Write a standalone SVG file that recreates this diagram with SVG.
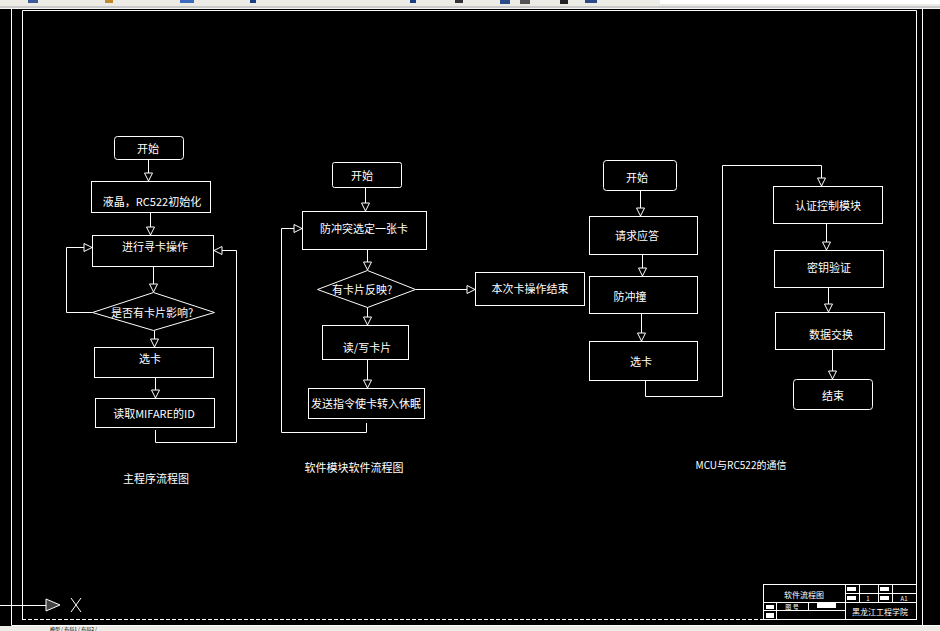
<svg xmlns="http://www.w3.org/2000/svg" width="940" height="631" viewBox="0 0 940 631">
<style>
.bx{fill:none;stroke:#fff;stroke-width:1}
.ln{fill:none;stroke:#fff;stroke-width:1}
.t{fill:#fff;font-family:"Noto Sans CJK SC","Liberation Sans",sans-serif;font-size:11px;text-anchor:middle;dominant-baseline:central}
.ts{fill:#fff;font-family:"Noto Sans CJK SC","Liberation Sans",sans-serif;font-size:8px;text-anchor:middle;dominant-baseline:central}
.tt{font-size:6px}
</style>
<defs>
<marker id="ar" markerUnits="userSpaceOnUse" markerWidth="10" markerHeight="10" viewBox="0 0 10 10" refX="9" refY="5" orient="auto">
<path d="M1,1 L9,5 L1,9 Z" fill="#000" stroke="#fff" stroke-width="1"/>
</marker>
</defs>
<rect x="0" y="0" width="940" height="631" fill="#000"/>
<!-- toolbar strip -->
<g id="toolbar">
<rect x="0" y="0" width="940" height="6" fill="#ecebe6"/>
<rect x="0" y="6" width="940" height="2" fill="#c9c9c9"/>
<rect x="0" y="8" width="940" height="1" fill="#f4f4f4"/>
<rect x="28" y="0" width="10" height="3" fill="#3c5a9a"/>
<rect x="105" y="0" width="8" height="3" fill="#c08a2a"/>
<rect x="180" y="0" width="14" height="3" fill="#3d6bbf"/>
<rect x="250" y="0" width="6" height="3" fill="#1a3d8a"/>
<rect x="410" y="0" width="6" height="3" fill="#1a3d8a"/>
<rect x="455" y="0" width="8" height="3" fill="#333"/>
<rect x="500" y="0" width="10" height="4" fill="#2a4a8a"/>
<rect x="520" y="0" width="10" height="4" fill="#555"/>
<rect x="560" y="0" width="8" height="4" fill="#222"/>
<rect x="585" y="0" width="12" height="3" fill="#2a4a8a"/>
<rect x="660" y="0" width="280" height="4" fill="#fff"/>
</g>
<!-- frames -->
<g id="frame">
<path class="ln" d="M11.5,9 V625.5 H940"/>
<path class="ln" d="M922.5,9 V625.5"/>
<path class="ln" d="M22.5,619.5 V10.5 H916.5 V619.5"/>
<path class="ln" d="M22,619.5 H916" stroke-dasharray="4,2"/>
</g>
<!-- bottom tabs -->
<g id="tabs">
<rect x="0" y="626" width="940" height="5" fill="#ecebe6"/>
<text x="50" y="630.5" fill="#000" font-family="Noto Sans CJK SC,sans-serif" font-size="5">模型 / 布局1 / 布局2 /</text>
</g>
<!-- UCS icon -->
<g id="ucs">
<path class="ln" d="M0,605.5 H46"/>
<path d="M46,599 L60,605 L46,611 Z" fill="#444" stroke="#fff" stroke-width="1"/>
<path class="ln" d="M71,598 L81,612 M81,598 L71,612"/>
</g>

<!-- Left flowchart -->
<g id="L1"><rect class="bx" x="114.5" y="136.5" width="69" height="23" rx="3"/><text class="t" x="148" y="148">开始</text></g>
<g id="L2"><rect class="bx" x="91.5" y="181.5" width="119" height="31"/><text class="t" x="152" y="201">液晶，RC522初始化</text></g>
<g id="L3"><rect class="bx" x="92.5" y="235.5" width="121" height="31"/><text class="t" x="155" y="246">进行寻卡操作</text></g>
<g id="L4"><polygon class="bx" points="153.5,292.5 214.5,312.5 153.5,330.5 92.5,312.5"/><text class="t" x="152" y="312">是否有卡片影响?</text></g>
<g id="L5"><rect class="bx" x="94.5" y="347.5" width="119" height="30"/><text class="t" x="150" y="358">选卡</text></g>
<g id="L6"><rect class="bx" x="95.5" y="398.5" width="119" height="29"/><text class="t" x="154" y="413">读取MIFARE的ID</text></g>
<g id="cap1"><text class="t" x="156" y="478">主程序流程图</text></g>

<!-- Middle flowchart -->
<g id="M1"><rect class="bx" x="332.5" y="162.5" width="69" height="25" rx="2"/><text class="t" x="362" y="175">开始</text></g>
<g id="M2"><rect class="bx" x="302.5" y="211.5" width="124" height="38"/><text class="t" x="364" y="228">防冲突选定一张卡</text></g>
<g id="M3"><polygon class="bx" points="367.5,270.5 415.5,289.5 367.5,307.5 317.5,289.5"/><text class="t" x="362" y="289">有卡片反映?</text></g>
<g id="M4"><rect class="bx" x="475.5" y="272.5" width="109" height="33"/><text class="t" x="530" y="288">本次卡操作结束</text></g>
<g id="M5"><rect class="bx" x="322.5" y="325.5" width="86" height="34"/><text class="t" x="367" y="347">读/写卡片</text></g>
<g id="M6"><rect class="bx" x="308.5" y="388.5" width="116" height="30"/><text class="t" x="366" y="403">发送指令使卡转入休眠</text></g>
<g id="cap2"><text class="t" x="354" y="467">软件模块软件流程图</text></g>

<!-- Right flowchart 1 -->
<g id="R1"><rect class="bx" x="603.5" y="160.5" width="73" height="30" rx="3"/><text class="t" x="637" y="177">开始</text></g>
<g id="R2"><rect class="bx" x="589.5" y="216.5" width="108" height="38"/><text class="t" x="637" y="235">请求应答</text></g>
<g id="R3"><rect class="bx" x="589.5" y="276.5" width="108" height="37"/><text class="t" x="630" y="296">防冲撞</text></g>
<g id="R4"><rect class="bx" x="589.5" y="341.5" width="108" height="39"/><text class="t" x="641" y="361">选卡</text></g>

<!-- Right flowchart 2 -->
<g id="S1"><rect class="bx" x="773.5" y="186.5" width="109" height="37"/><text class="t" x="828" y="205">认证控制模块</text></g>
<g id="S2"><rect class="bx" x="774.5" y="250.5" width="109" height="37"/><text class="t" x="829" y="267">密钥验证</text></g>
<g id="S3"><rect class="bx" x="775.5" y="312.5" width="109" height="37"/><text class="t" x="831" y="334">数据交换</text></g>
<g id="S4"><rect class="bx" x="793.5" y="379.5" width="79" height="30" rx="3"/><text class="t" x="833" y="395">结束</text></g>
<g id="cap3"><text class="t" x="741" y="464" style="font-size:10px">MCU与RC522的通信</text></g>

<!-- connectors -->
<g id="connectors">
<path class="ln" d="M148.5,159.5 V181" marker-end="url(#ar)"/>
<path class="ln" d="M150.5,212.5 V235" marker-end="url(#ar)"/>
<path class="ln" d="M153.5,266.5 V292" marker-end="url(#ar)"/>
<path class="ln" d="M92.5,312.5 H66.5 V247.5 H92" marker-end="url(#ar)"/>
<path class="ln" d="M154.5,330.5 V347" marker-end="url(#ar)"/>
<path class="ln" d="M155.5,377.5 V398" marker-end="url(#ar)"/>
<path class="ln" d="M155.5,430 V442.5 H236.5 V250.5 H214" marker-end="url(#ar)"/>

<path class="ln" d="M365.5,187.5 V211" marker-end="url(#ar)"/>
<path class="ln" d="M367.5,249.5 V270" marker-end="url(#ar)"/>
<path class="ln" d="M415.5,289.5 H475" marker-end="url(#ar)"/>
<path class="ln" d="M367.5,307.5 V325" marker-end="url(#ar)"/>
<path class="ln" d="M367.5,359.5 V388" marker-end="url(#ar)"/>
<path class="ln" d="M366.5,423 V432.5 H281.5 V228.5 H302" marker-end="url(#ar)"/>

<path class="ln" d="M640.5,190.5 V216" marker-end="url(#ar)"/>
<path class="ln" d="M642.5,254.5 V276" marker-end="url(#ar)"/>
<path class="ln" d="M641.5,313.5 V341" marker-end="url(#ar)"/>
<path class="ln" d="M645.5,380.5 V396.5 H722.5 V165.5 H821.5 V186" marker-end="url(#ar)"/>
<path class="ln" d="M826.5,223.5 V250" marker-end="url(#ar)"/>
<path class="ln" d="M828.5,287.5 V312" marker-end="url(#ar)"/>
<path class="ln" d="M832.5,349.5 V379" marker-end="url(#ar)"/>
</g>

<!-- title block -->
<g id="titleblock">
<rect class="bx" x="763.5" y="584.5" width="153" height="35"/>
<path class="ln" d="M845.5,584.5 V619.5 M859.5,584.5 V602.5 M878.5,584.5 V602.5 M892.5,584.5 V602.5 M845.5,593.5 H916.5 M763.5,602.5 H916.5 M763.5,610.5 H845.5 M776.5,602.5 V619.5 M808.5,602.5 V610.5"/>
<text class="ts" x="804" y="594">软件流程图</text>
<text class="ts" x="880" y="611">黑龙江工程学院</text>
<text class="ts tt" x="868" y="598">1</text>
<text class="ts tt" x="904" y="598">A1</text>
<text class="ts tt" x="792" y="606">图 号</text>
<rect x="766" y="605" width="8" height="4" fill="#fff"/>
<rect x="817" y="603" width="19" height="5" fill="#fff"/>
<rect x="766" y="613" width="8" height="5" fill="#fff"/>
<rect x="847" y="587" width="9" height="4" fill="#fff"/>
<rect x="847" y="596" width="9" height="4" fill="#fff"/>
<rect x="880" y="587" width="9" height="4" fill="#fff"/>
<rect x="880" y="596" width="9" height="4" fill="#fff"/>
</g>
</svg>
